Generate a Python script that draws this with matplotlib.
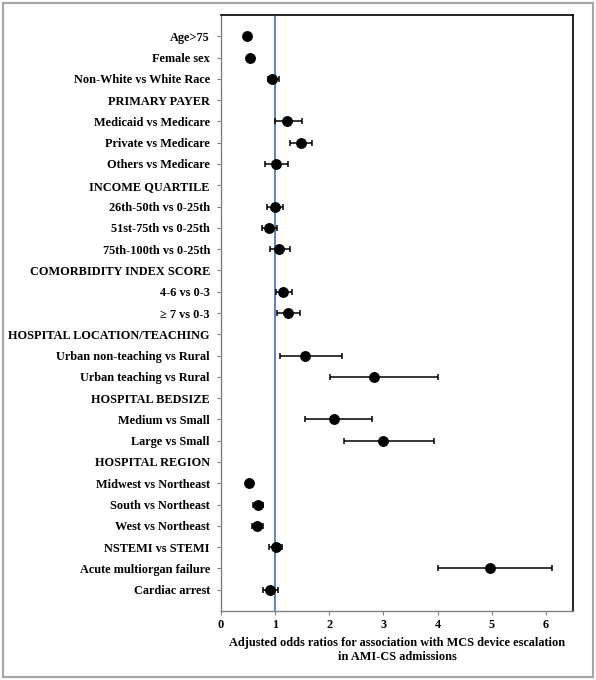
import numpy as np
import matplotlib.pyplot as plt
from matplotlib.patches import Rectangle

labels = ["Age>75", "Female sex", "Non-White vs White Race", "PRIMARY PAYER",
          "Medicaid vs Medicare", "Private vs Medicare", "Others vs Medicare",
          "INCOME QUARTILE", "26th-50th vs 0-25th", "51st-75th vs 0-25th",
          "75th-100th vs 0-25th", "COMORBIDITY INDEX SCORE", "4-6 vs 0-3",
          "\u2265 7 vs 0-3", "HOSPITAL LOCATION/TEACHING",
          "Urban non-teaching vs Rural", "Urban teaching vs Rural",
          "HOSPITAL BEDSIZE", "Medium vs Small", "Large vs Small",
          "HOSPITAL REGION", "Midwest vs Northeast", "South vs Northeast",
          "West vs Northeast", "NSTEMI vs STEMI", "Acute multiorgan failure",
          "Cardiac arrest"]

# odds ratios and 95% CI (nan = header row)
nan = np.nan
odds = [0.48, 0.54, 0.94, nan, 1.21, 1.47, 1.01, nan, 0.99, 0.89, 1.08, nan,
        1.15, 1.23, nan, 1.56, 2.83, nan, 2.09, 2.99, nan, 0.51, 0.69, 0.67,
        1.01, 4.96, 0.90]
lower = [0.45, 0.51, 0.86, nan, 0.99, 1.28, 0.81, nan, 0.85, 0.76, 0.91, nan,
         1.02, 1.04, nan, 1.09, 2.01, nan, 1.56, 2.28, nan, 0.46, 0.60, 0.57,
         0.88, 4.01, 0.77]
upper = [0.51, 0.57, 1.07, nan, 1.49, 1.68, 1.24, nan, 1.14, 1.03, 1.27, nan,
         1.31, 1.46, nan, 2.23, 4.00, nan, 2.79, 3.94, nan, 0.57, 0.77, 0.77,
         1.12, 6.12, 1.06]

odds = np.array(odds)
lower = np.array(lower)
upper = np.array(upper)
y = np.arange(len(labels))

plt.rcParams['font.family'] = ['Liberation Serif', 'DejaVu Serif']
plt.rcParams['font.weight'] = 'bold'

fig = plt.figure(figsize=(5.96, 6.8), dpi=100)
ax = fig.add_axes([221/596, 1 - 611/680, (573-221)/596, (611-15)/680])

# grey frame round the whole picture
fig.patches.append(Rectangle((3/596, 3/680), 590/596, 674/680, transform=fig.transFigure,
                             fill=False, edgecolor='#a6a6a6', linewidth=1.5))

ax.axvline(1, color='#4a7ebb', linewidth=1.3, zorder=1)
ax.errorbar(odds, y, xerr=[odds - lower, upper - odds], fmt='o', color='black',
            ecolor='black', markersize=6.8, elinewidth=1.1, capsize=2.5, capthick=1.1, zorder=3)

ax.set_ylim(len(labels), -1)
ax.set_xlim(0, 6.5)
ax.set_yticks(y)
ax.set_yticklabels(labels, fontsize=8.8, fontweight='bold')
ax.set_xticks(range(7))
ax.set_xticklabels([str(i) for i in range(7)], fontsize=8.8, fontweight='bold')
ax.tick_params(axis='y', length=3, color='#808080', pad=5)
ax.tick_params(axis='x', length=3, color='#808080', pad=3)
for s in ['left', 'bottom']:
    ax.spines[s].set_color('#808080')
    ax.spines[s].set_linewidth(1)
for s in ['top', 'right']:
    ax.spines[s].set_color('black')
    ax.spines[s].set_linewidth(1.2)

ax.set_xlabel("Adjusted odds ratios for association with MCS device escalation\nin AMI-CS admissions",
              fontsize=8.8, fontweight='bold', labelpad=4)

fig.savefig('out.png', dpi=100)
